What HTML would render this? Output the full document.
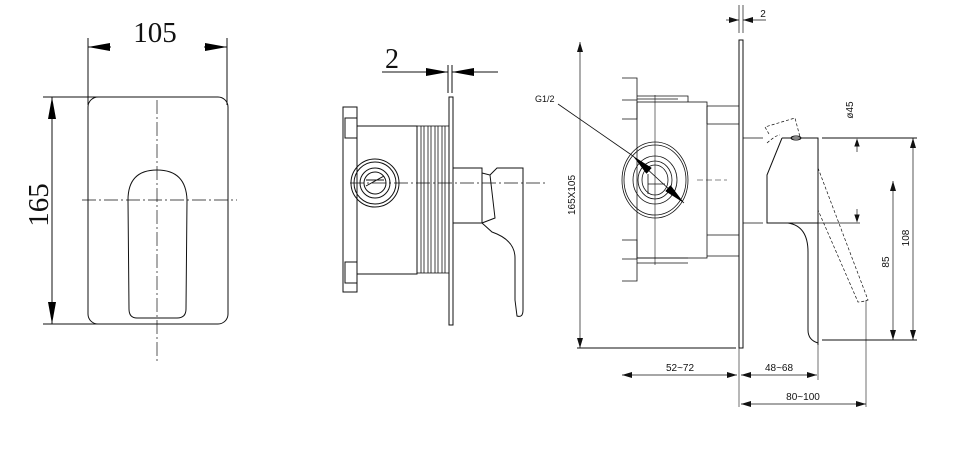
<!DOCTYPE html>
<html><head><meta charset="utf-8"><style>html,body{margin:0;padding:0;background:#fff}svg{display:block}</style></head>
<body>
<svg width="960" height="450" viewBox="0 0 960 450" xmlns="http://www.w3.org/2000/svg" fill="none" stroke="#111" stroke-width="1">
<defs>
<marker id="a" viewBox="0 0 10 6" refX="10" refY="3" markerWidth="10" markerHeight="6" orient="auto-start-reverse" markerUnits="userSpaceOnUse"><path d="M0,0L10,3L0,6Z" fill="#111" stroke="none"/></marker>
<marker id="b" viewBox="0 0 22 8" refX="22" refY="4" markerWidth="22" markerHeight="8" orient="auto-start-reverse" markerUnits="userSpaceOnUse"><path d="M0,0L22,4L0,8Z" fill="#000" stroke="none"/></marker>
</defs>
<!-- VIEW 1 -->
<line x1="88" y1="38" x2="88" y2="105"/><line x1="227" y1="38" x2="227" y2="105"/>
<line x1="88" y1="47" x2="111" y2="47" marker-start="url(#b)"/><line x1="204" y1="47" x2="227" y2="47" marker-end="url(#b)"/>
<text x="155" y="42" font-family="Liberation Serif" font-size="29" fill="#111" stroke="none" text-anchor="middle">105</text>
<rect x="88" y="97" width="140" height="227" rx="10"/>
<line x1="43" y1="97" x2="100" y2="97"/><line x1="43" y1="324" x2="100" y2="324"/>
<line x1="52" y1="97" x2="52" y2="324" marker-start="url(#b)" marker-end="url(#b)"/>
<text transform="translate(48,205) rotate(-90)" font-family="Liberation Serif" font-size="29" fill="#111" stroke="none" text-anchor="middle">165</text>
<line x1="157" y1="100" x2="157" y2="363" stroke-width="0.7" stroke-dasharray="14,3,2,3"/>
<line x1="82" y1="200" x2="237" y2="200" stroke-width="0.7" stroke-dasharray="14,3,2,3"/>
<path d="M128,200 Q128,170 157,170 Q186,170 187,200 L186,309 Q186,318 177,318 L137,318 Q129,318 129,309 Z"/>
<!-- VIEW 2 -->
<text x="392" y="68" font-family="Liberation Serif" font-size="28" fill="#111" stroke="none" text-anchor="middle">2</text>
<line x1="382" y1="72" x2="448" y2="72" marker-end="url(#b)"/><line x1="452" y1="72" x2="498" y2="72" marker-start="url(#b)"/>
<line x1="448" y1="65" x2="448" y2="93"/><line x1="452" y1="65" x2="452" y2="93"/>
<rect x="449" y="97" width="4" height="228"/>
<rect x="343" y="107" width="14" height="185"/>
<rect x="345" y="118" width="12" height="20"/><rect x="345" y="262" width="12" height="21"/>
<rect x="357" y="126" width="60" height="148"/>
<line x1="357" y1="274" x2="398" y2="274"/>
<g stroke-width="0.8"><rect x="417" y="126" width="32" height="147"/>
<line x1="421" y1="126" x2="421" y2="273"/><line x1="424" y1="126" x2="424" y2="273"/><line x1="428" y1="126" x2="428" y2="273"/><line x1="431" y1="126" x2="431" y2="273"/><line x1="435" y1="126" x2="435" y2="273"/><line x1="438" y1="126" x2="438" y2="273"/><line x1="442" y1="126" x2="442" y2="273"/><line x1="445" y1="126" x2="445" y2="273"/></g>
<circle cx="375" cy="183" r="24"/><circle cx="375" cy="183" r="21"/><circle cx="375" cy="183" r="15"/><circle cx="375" cy="183" r="11"/>
<path d="M366,180 L384,180 M366,186 L384,176"/>
<rect x="453" y="168" width="29" height="55"/>
<path d="M482,173 L490,175 L495,218 L482,223 M490,175 L497,168 L523,168 L523,310 Q523,318 517,316 L515,300 L515,258 Q515,240 492,232 L482,223"/>
<line x1="350" y1="183" x2="548" y2="183" stroke-width="0.7" stroke-dasharray="14,3,2,3"/>
<!-- VIEW 3 -->
<line x1="739" y1="5" x2="739" y2="33" stroke-width="0.7"/><line x1="743" y1="5" x2="743" y2="33" stroke-width="0.7"/>
<line x1="726" y1="20" x2="739" y2="20" stroke-width="0.7" marker-end="url(#a)"/><line x1="743" y1="20" x2="766" y2="20" stroke-width="0.7" marker-start="url(#a)"/>
<text x="763" y="17" font-family="Liberation Sans" font-size="10" fill="#111" stroke="none" text-anchor="middle">2</text>
<rect x="739" y="40" width="4" height="308"/>
<line x1="580" y1="42" x2="580" y2="348" stroke-width="0.7" marker-start="url(#a)" marker-end="url(#a)"/>
<line x1="577" y1="348" x2="736" y2="348"/>
<text transform="translate(575,195) rotate(-90)" font-family="Liberation Sans" font-size="10" fill="#111" stroke="none" text-anchor="middle">165X105</text>
<g stroke-width="0.8">
<rect x="637" y="102" width="70" height="156"/>
<path d="M707,106 L739,106 M707,124 L739,124 M707,235 L739,235 M707,256 L739,256 M707,106 L707,124"/>
<path d="M622,78 L637,78 L637,119 L622,119 M622,100 L637,100 M637,96 L688,96 L688,102 M637,99 L678,99"/>
<path d="M622,240 L637,240 L637,281 L622,281 M622,259 L637,259 M637,258 L688,258 M637,263 L688,263"/>
<line x1="655" y1="95" x2="655" y2="265" stroke-width="0.6"/>
<ellipse cx="655" cy="180" rx="33" ry="38"/><ellipse cx="655" cy="180" rx="31" ry="35"/>
<ellipse cx="655" cy="180" rx="22" ry="24"/><ellipse cx="655" cy="180" rx="17" ry="19"/><ellipse cx="655" cy="180" rx="13" ry="15"/>
<path d="M648,174 L648,194 M648,184 L665,184"/>
</g>
<line x1="697" y1="180" x2="727" y2="180" stroke-width="0.6" stroke-dasharray="6,3"/>
<text x="535" y="102" font-family="Liberation Sans" font-size="9" fill="#111" stroke="none">G1/2</text>
<line x1="558" y1="104" x2="633" y2="156" stroke-width="0.8"/>
<line x1="633" y1="156" x2="684" y2="203" stroke-width="0.8" marker-start="url(#b)" marker-end="url(#b)"/>
<path d="M743,138 L763,138 M743,223 L763,223" stroke-width="0.8"/>
<path d="M782,138 L818,138 L818,345 M782,138 L767,175 L767,223 L818,223"/>
<path d="M788,223 Q808,226 808,252 L808,330 Q808,340 818,343"/>
<ellipse cx="796" cy="138" rx="5" ry="2"/>
<path d="M767,143 Q776,135 780,135 M769,134 L765,127 L795,118 L800,137" stroke-width="0.7" stroke-dasharray="3,2"/>
<path d="M818,168 L868,300 Q862,302 858,302 L818,210" stroke-width="0.7" stroke-dasharray="3,2"/>
<line x1="822" y1="138" x2="917" y2="138"/><line x1="822" y1="340" x2="917" y2="340"/>
<line x1="818" y1="223" x2="860" y2="223" stroke-width="0.7"/>
<line x1="857" y1="140" x2="857" y2="152" stroke-width="0.7"/>
<path d="M857,140 L855,146 L859,146 Z" fill="#111"/>
<line x1="857" y1="209" x2="857" y2="221" stroke-width="0.7"/>
<path d="M857,221 L855,215 L859,215 Z" fill="#111"/>
<text transform="translate(853,110) rotate(-90)" font-family="Liberation Sans" font-size="10" fill="#111" stroke="none" text-anchor="middle">ø45</text>
<line x1="913" y1="138" x2="913" y2="340" stroke-width="0.7" marker-start="url(#a)" marker-end="url(#a)"/>
<text transform="translate(909,238) rotate(-90)" font-family="Liberation Sans" font-size="10" fill="#111" stroke="none" text-anchor="middle">108</text>
<line x1="893" y1="181" x2="893" y2="340" stroke-width="0.7" marker-start="url(#a)" marker-end="url(#a)"/>
<text transform="translate(889,262) rotate(-90)" font-family="Liberation Sans" font-size="10" fill="#111" stroke="none" text-anchor="middle">85</text>
<line x1="739" y1="348" x2="739" y2="407" stroke-width="0.6"/>
<line x1="818" y1="345" x2="818" y2="380" stroke-width="0.6"/>
<line x1="866" y1="300" x2="866" y2="407" stroke-width="0.6"/>
<line x1="622" y1="375" x2="737" y2="375" stroke-width="0.7" marker-start="url(#a)" marker-end="url(#a)"/>
<text x="680" y="371" font-family="Liberation Sans" font-size="10" fill="#111" stroke="none" text-anchor="middle">52~72</text>
<line x1="741" y1="375" x2="817" y2="375" stroke-width="0.7" marker-start="url(#a)" marker-end="url(#a)"/>
<text x="779" y="371" font-family="Liberation Sans" font-size="10" fill="#111" stroke="none" text-anchor="middle">48~68</text>
<line x1="741" y1="404" x2="866" y2="404" stroke-width="0.7" marker-start="url(#a)" marker-end="url(#a)"/>
<text x="803" y="400" font-family="Liberation Sans" font-size="10" fill="#111" stroke="none" text-anchor="middle">80~100</text>
</svg>
</body></html>
